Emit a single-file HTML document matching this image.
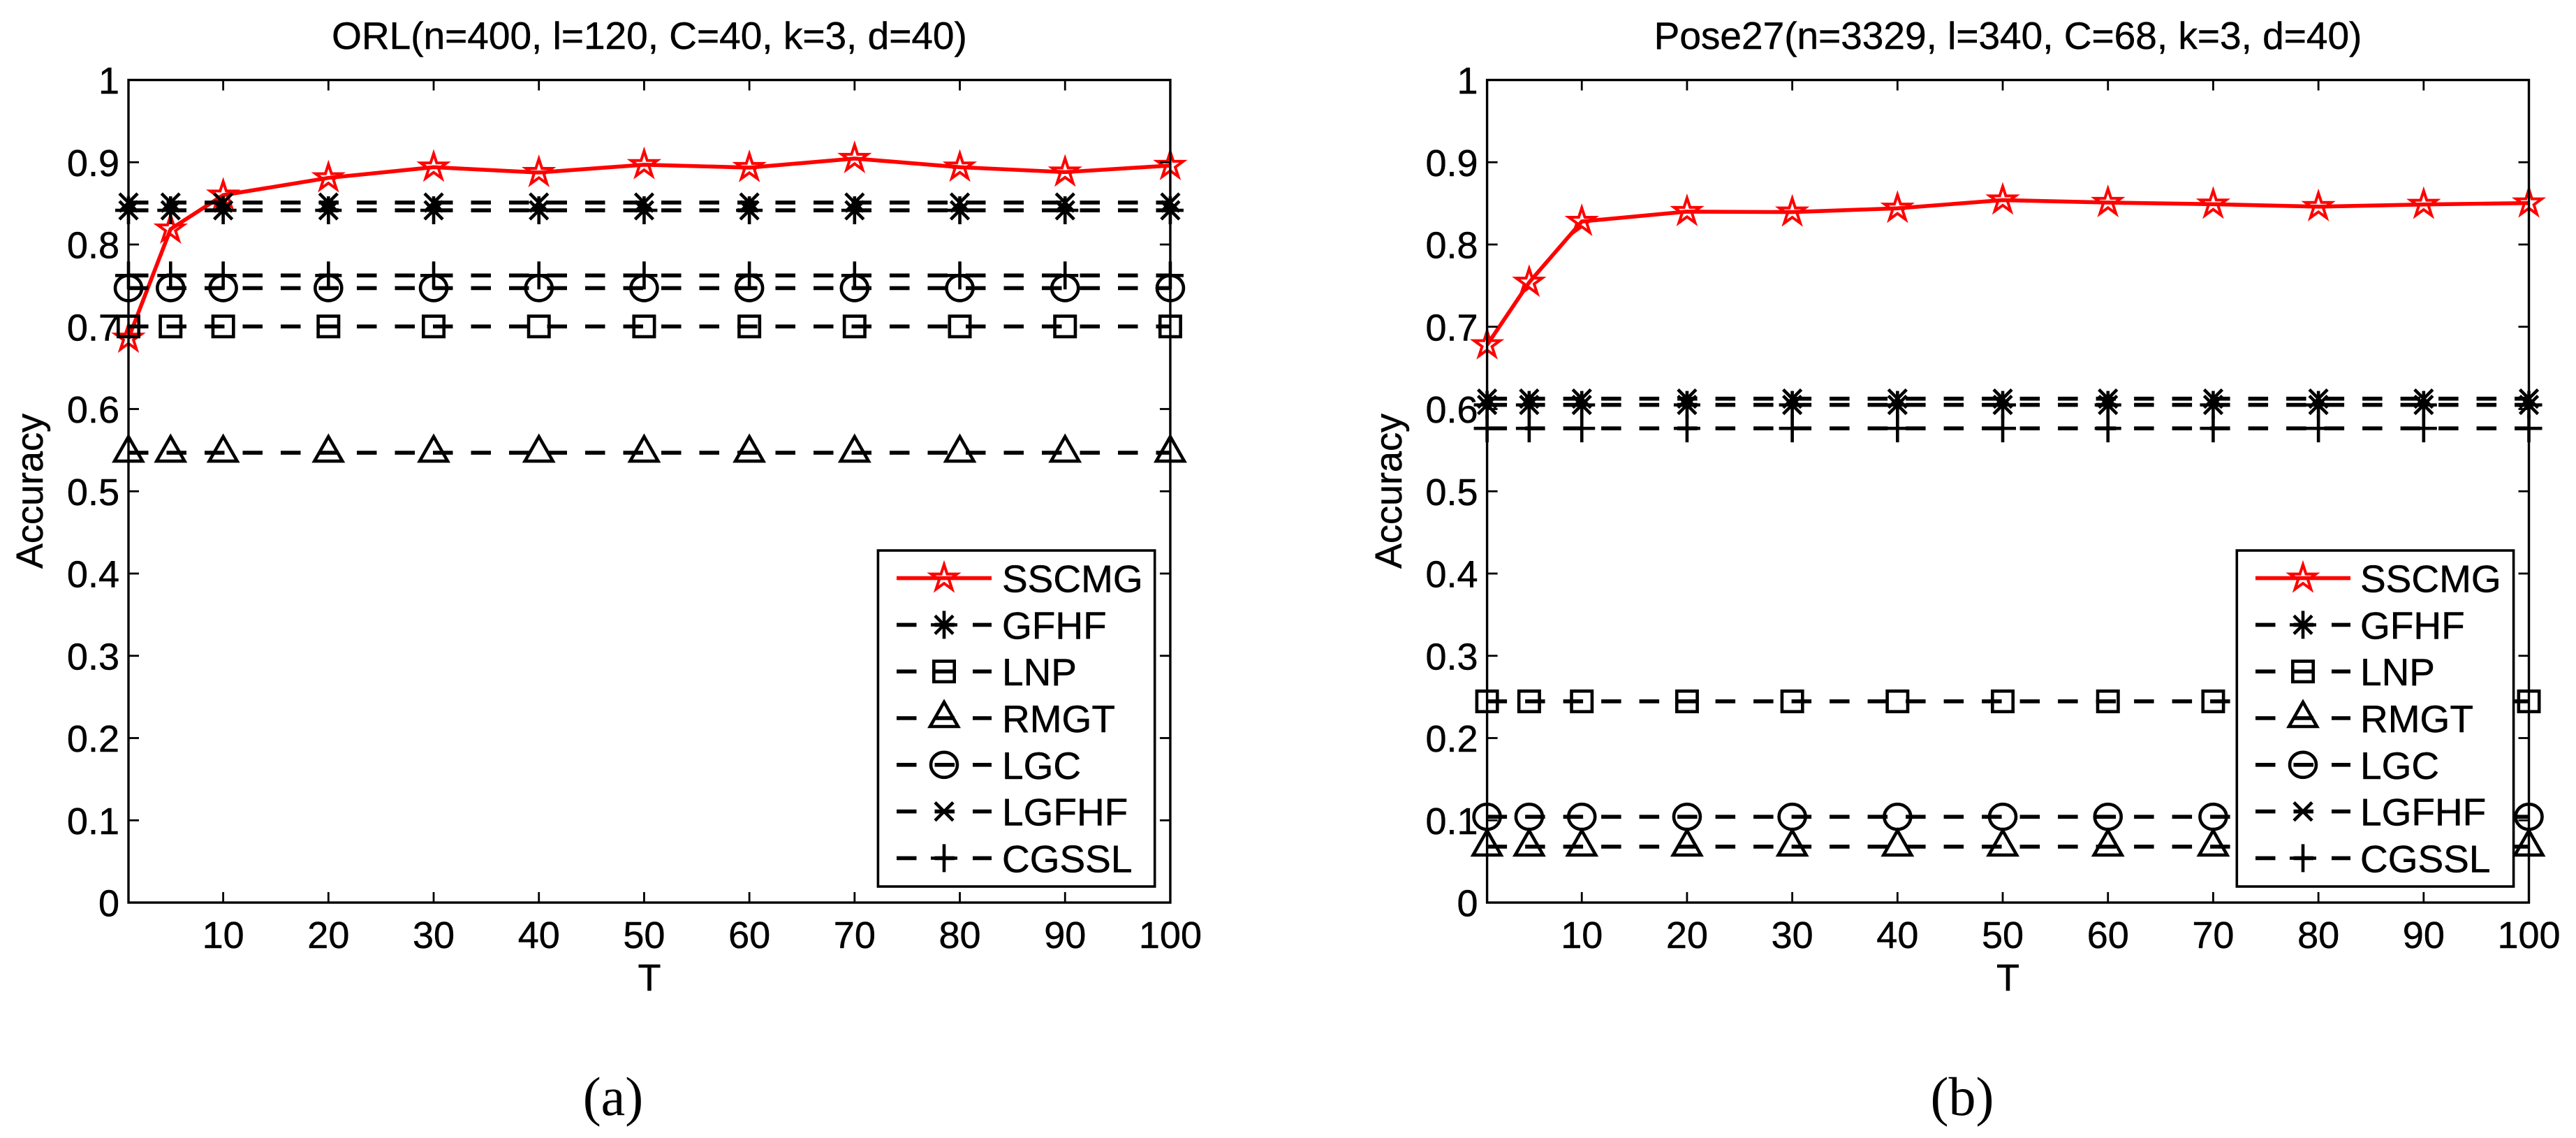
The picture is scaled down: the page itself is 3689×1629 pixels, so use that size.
<!DOCTYPE html>
<html lang="en">
<head>
<meta charset="utf-8">
<title>Accuracy vs T on ORL and Pose27</title>
<style>
html,body{margin:0;padding:0;background:#fff;}
svg{display:block;}
text{font-family:"Liberation Sans",Arial,sans-serif;font-size:54px;fill:#000;stroke:#000;stroke-width:0.5px;}
.title,.leg{font-size:55px;}
.cap{font-family:"Liberation Serif","Times New Roman",serif;font-size:78px;stroke-width:0;}
</style>
</head>
<body>
<svg id="figure" xmlns="http://www.w3.org/2000/svg" width="3689" height="1629" viewBox="0 0 3689 1629">
<rect width="3689" height="1629" fill="#fff"/>
<g id="panel-a">
<text class="title" x="930" y="70" text-anchor="middle">ORL(n=400, l=120, C=40, k=3, d=40)</text>
<text x="930" y="1418" text-anchor="middle">T</text>
<text transform="translate(61,703) rotate(-90)" text-anchor="middle">Accuracy</text>
</g>
<g id="panel-b">
<text class="title" x="2875.5" y="70" text-anchor="middle">Pose27(n=3329, l=340, C=68, k=3, d=40)</text>
<text x="2875.5" y="1418" text-anchor="middle">T</text>
<text transform="translate(2007,703) rotate(-90)" text-anchor="middle">Accuracy</text>
</g>
<text class="cap" x="878" y="1596" text-anchor="middle">(a)</text>
<text class="cap" x="2810" y="1596" text-anchor="middle">(b)</text>
</svg>
<script>
// Shared axis data
const tValues = [1, 5, 10, 20, 30, 40, 50, 60, 70, 80, 90, 100];
const xTickValues = [10, 20, 30, 40, 50, 60, 70, 80, 90, 100];
const xTickLabels = ['10', '20', '30', '40', '50', '60', '70', '80', '90', '100'];
const yTickValues = [0, 0.1, 0.2, 0.3, 0.4, 0.5, 0.6, 0.7, 0.8, 0.9, 1];
const yTickLabels = ['0', '0.1', '0.2', '0.3', '0.4', '0.5', '0.6', '0.7', '0.8', '0.9', '1'];
const seriesNames = ['SSCMG', 'GFHF', 'LNP', 'RMGT', 'LGC', 'LGFHF', 'CGSSL'];
const seriesMarkers = ['star', 'asterisk', 'square', 'triangle', 'circle', 'cross', 'plus'];

// ORL panel values
const orlSSCMG = [0.686, 0.8187, 0.860, 0.881, 0.894, 0.8875, 0.897, 0.8935, 0.9045, 0.894, 0.888, 0.896];
const orlGFHF  = [0.8416, 0.8416, 0.8416, 0.8416, 0.8416, 0.8416, 0.8416, 0.8416, 0.8416, 0.8416, 0.8416, 0.8416];
const orlLNP   = [0.7004, 0.7004, 0.7004, 0.7004, 0.7004, 0.7004, 0.7004, 0.7004, 0.7004, 0.7004, 0.7004, 0.7004];
const orlRMGT  = [0.5469, 0.5469, 0.5469, 0.5469, 0.5469, 0.5469, 0.5469, 0.5469, 0.5469, 0.5469, 0.5469, 0.5469];
const orlLGC   = [0.747, 0.747, 0.747, 0.747, 0.747, 0.747, 0.747, 0.747, 0.747, 0.747, 0.747, 0.747];
const orlLGFHF = [0.851, 0.851, 0.851, 0.851, 0.851, 0.851, 0.851, 0.851, 0.851, 0.851, 0.851, 0.851];
const orlCGSSL = [0.7624, 0.7624, 0.7624, 0.7624, 0.7624, 0.7624, 0.7624, 0.7624, 0.7624, 0.7624, 0.7624, 0.7624];

// Pose27 panel values
const poseSSCMG = [0.678, 0.754, 0.828, 0.840, 0.8394, 0.844, 0.854, 0.851, 0.849, 0.846, 0.8487, 0.8504];
const poseGFHF  = [0.605, 0.605, 0.605, 0.605, 0.605, 0.605, 0.605, 0.605, 0.605, 0.605, 0.605, 0.605];
const poseLNP   = [0.2446, 0.2446, 0.2446, 0.2446, 0.2446, 0.2446, 0.2446, 0.2446, 0.2446, 0.2446, 0.2446, 0.2446];
const poseRMGT  = [0.068, 0.068, 0.068, 0.068, 0.068, 0.068, 0.068, 0.068, 0.068, 0.068, 0.068, 0.068];
const poseLGC   = [0.1043, 0.1043, 0.1043, 0.1043, 0.1043, 0.1043, 0.1043, 0.1043, 0.1043, 0.1043, 0.1043, 0.1043];
const poseLGFHF = [0.6126, 0.6126, 0.6126, 0.6126, 0.6126, 0.6126, 0.6126, 0.6126, 0.6126, 0.6126, 0.6126, 0.6126];
const poseCGSSL = [0.5765, 0.5765, 0.5765, 0.5765, 0.5765, 0.5765, 0.5765, 0.5765, 0.5765, 0.5765, 0.5765, 0.5765];

const orlSeries = [orlSSCMG, orlGFHF, orlLNP, orlRMGT, orlLGC, orlLGFHF, orlCGSSL];
const poseSeries = [poseSSCMG, poseGFHF, poseLNP, poseRMGT, poseLGC, poseLGFHF, poseCGSSL];

const NS = 'http://www.w3.org/2000/svg';
function make(parent, tag, attrs, text) {
  const el = document.createElementNS(NS, tag);
  for (const k in attrs) el.setAttribute(k, attrs[k]);
  if (text !== undefined) el.textContent = text;
  parent.appendChild(el);
  return el;
}

function drawMarker(parent, kind, cx, cy, color, seriesName) {
  const g = make(parent, 'g', {fill: 'none', stroke: color, 'stroke-width': 4.6});
  
  
  const seg = (x1, y1, x2, y2) => make(g, 'line', {x1: cx + x1, y1: cy + y1, x2: cx + x2, y2: cy + y2});
  if (kind === 'star') {
    const pts = [];
    for (let i = 0; i < 10; i++) {
      const r = i % 2 ? 7.45 : 19.5;
      const a = -Math.PI / 2 + i * Math.PI / 5;
      pts.push((cx + r * Math.cos(a)).toFixed(2) + ',' + (cy + r * Math.sin(a)).toFixed(2));
    }
    make(g, 'polygon', {points: pts.join(' '), 'stroke-width': 4, 'stroke-miterlimit': 6});
  } else if (kind === 'square') {
    make(g, 'rect', {x: cx - 14.7, y: cy - 14.7, width: 29.4, height: 29.4});
  } else if (kind === 'triangle') {
    make(g, 'polygon', {points: cx + ',' + (cy - 23) + ' ' + (cx - 20) + ',' + (cy + 12) + ' ' + (cx + 20) + ',' + (cy + 12), 'stroke-miterlimit': 6});
  } else if (kind === 'circle') {
    make(g, 'ellipse', {cx: cx, cy: cy, rx: 19, ry: 18});
  } else if (kind === 'asterisk') {
    seg(0, -20, 0, 20); seg(-19, 0, 19, 0); seg(-13, -13, 13, 13); seg(-13, 13, 13, -13);
  } else if (kind === 'cross') {
    seg(-13, -13, 13, 13); seg(-13, 13, 13, -13);
  } else if (kind === 'plus') {
    seg(0, -20, 0, 20); seg(-19, 0, 19, 0);
  }
}

function drawPanel(root, prefix, left, seriesList, legendLeft, lineLeft, textLeft) {
  const yBottom = 1292, yTop = 114.5;
  const xScale = t => left + (t - 1) * 15.07;
  const yScale = v => yBottom - v * (yBottom - yTop);
  const right = xScale(100);

  // Series, first one underneath
  seriesList.forEach((values, s) => {
    const color = s === 0 ? '#ff0000' : '#000000';
    const g = make(root, 'g', {});
    
    
    const pts = values.map((v, i) => xScale(tValues[i]).toFixed(2) + ',' + yScale(v).toFixed(2)).join(' ');
    const attrs = {points: pts, fill: 'none', stroke: color, 'stroke-width': 5.6};
    if (s > 0) attrs['stroke-dasharray'] = '28.5 26';
    const line = make(g, 'polyline', attrs);
    
    
    values.forEach((v, i) => drawMarker(g, seriesMarkers[s], xScale(tValues[i]), yScale(v), color, seriesNames[s]));
  });

  // Axes box
  const box = make(root, 'rect', {x: left, y: yTop, width: right - left, height: yBottom - yTop, fill: 'none', stroke: '#000', 'stroke-width': 3.4});
  
  

  // X ticks
  xTickValues.forEach((t, i) => {
    const x = xScale(t);
    if (t < 100) {
      const a = make(root, 'line', {x1: x, x2: x, y1: yBottom, y2: yBottom - 15, stroke: '#000', 'stroke-width': 2.8});
      
      
      const b = make(root, 'line', {x1: x, x2: x, y1: yTop, y2: yTop + 15, stroke: '#000', 'stroke-width': 2.8});
      
      
    }
    const lab = make(root, 'text', {x: x, y: 1357, 'text-anchor': 'middle'}, xTickLabels[i]);
    
    
  });

  // Y ticks
  yTickValues.forEach((v, i) => {
    const y = yScale(v);
    if (v > 0 && v < 1) {
      const a = make(root, 'line', {x1: left, x2: left + 15, y1: y, y2: y, stroke: '#000', 'stroke-width': 2.8});
      
      
      const b = make(root, 'line', {x1: right, x2: right - 15, y1: y, y2: y, stroke: '#000', 'stroke-width': 2.8});
      
      
    }
    const lab = make(root, 'text', {x: left - 13, y: y + 19.5, 'text-anchor': 'end'}, yTickLabels[i]);
    
    
  });

  // Legend
  const leg = make(root, 'g', {});
  
  
  const frame = make(leg, 'rect', {x: legendLeft, y: 788, width: 396.3, height: 481, fill: '#fff', stroke: '#000', 'stroke-width': 3.6});
  
  
  seriesNames.forEach((name, s) => {
    const y = 827.6 + s * 66.8;
    const color = s === 0 ? '#ff0000' : '#000000';
    const entry = make(leg, 'g', {});
    
    
    const attrs = {x1: lineLeft, x2: lineLeft + 136, y1: y, y2: y, stroke: color, 'stroke-width': 5.6};
    if (s > 0) attrs['stroke-dasharray'] = '28.5 26 28.5 26 27';
    make(entry, 'line', attrs);
    drawMarker(entry, seriesMarkers[s], lineLeft + 68, y, color, name);
    const lab = make(entry, 'text', {x: textLeft, y: y + 20, class: 'leg'}, name);
    
    
  });
}

drawPanel(document.getElementById('panel-a'), 'orl', 184, orlSeries, 1257.4, 1284, 1435);
drawPanel(document.getElementById('panel-b'), 'pose', 2129.6, poseSeries, 3203.3, 3230, 3380);
</script>
</body>
</html>
